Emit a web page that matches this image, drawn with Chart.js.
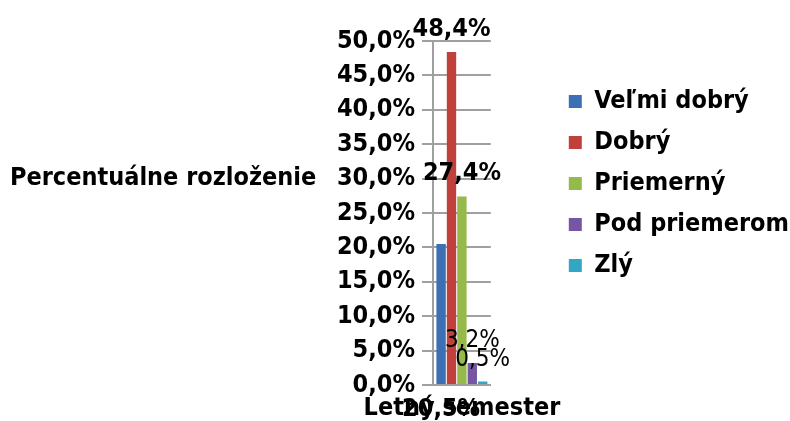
<!DOCTYPE html>
<html>
<head>
<meta charset="utf-8">
<script src="https://cdn.jsdelivr.net/npm/chart.js@4.4.1/dist/chart.umd.min.js"></script>
<style>
  html, body { margin: 0; padding: 0; background: #fff; }
</style>
</head>
<body>
<canvas id="myChart" width="790" height="421"></canvas>
<script>
const categories = ['Letný semester'];
const seriesNames = ['Veľmi dobrý', 'Dobrý', 'Priemerný', 'Pod priemerom', 'Zlý'];
const velmiDobry = [20.5];
const dobry = [48.4];
const priemerny = [27.4];
const podPriemerom = [3.2];
const zly = [0.5];
const yTickValues = [0, 5, 10, 15, 20, 25, 30, 35, 40, 45, 50];
const axisTitle = 'Percentuálne rozloženie';

const FONT = '"DejaVu Sans Condensed", "DejaVu Sans", sans-serif';
const palette = ['#3d6fb4', '#c0403c', '#95ba4a', '#7656a2', '#33a6c4'];
// how each value label was placed in the original
const labelLook = [
    { weight: 'bold', size: 25, place: 'base' },
    { weight: 'bold', size: 25, place: 'end' },
    { weight: 'bold', size: 25, place: 'end' },
    { weight: 'normal', size: 24, place: 'end' },
    { weight: 'normal', size: 24, place: 'end' },
];

const fmt = v => v.toFixed(1).replace('.', ',') + '%';

const sideTitle = {
    id: 'sideTitle',
    afterDraw(chart) {
        const ctx = chart.ctx;
        ctx.save();
        ctx.font = 'bold 25px ' + FONT;
        ctx.fillStyle = '#000';
        ctx.textAlign = 'left';
        ctx.textBaseline = 'middle';
        ctx.fillText(axisTitle, 10, 178);
        ctx.restore();
    },
};

const valueLabels = {
    id: 'valueLabels',
    afterDatasetsDraw(chart) {
        const ctx = chart.ctx;
        const base = chart.scales.y.getPixelForValue(0);
        ctx.save();
        ctx.fillStyle = '#000';
        ctx.textAlign = 'center';
        ctx.textBaseline = 'alphabetic';
        chart.data.datasets.forEach((ds, i) => {
            const bar = chart.getDatasetMeta(i).data[0];
            const look = labelLook[i];
            ctx.font = `${look.weight} ${look.size}px ${FONT}`;
            const y = look.place === 'end' ? bar.y - 16 : base + 31;
            ctx.fillText(fmt(ds.data[0]), bar.x, y);
        });
        ctx.restore();
    },
};

const seriesData = [velmiDobry, dobry, priemerny, podPriemerom, zly];
const datasets = seriesNames.map((name, i) => ({
    label: name,
    data: seriesData[i],
    backgroundColor: palette[i],
    borderWidth: 0,
    categoryPercentage: 0.9,
    barPercentage: 0.9,
}));

Chart.defaults.font.family = FONT;
Chart.defaults.color = '#000';

new Chart(document.getElementById('myChart').getContext('2d'), {
    type: 'bar',
    data: { labels: categories, datasets },
    plugins: [sideTitle, valueLabels],
    options: {
        responsive: false,
        animation: false,
        layout: {
            padding: { left: 330, right: -9, top: 41, bottom: -10 },
        },
        plugins: {
            tooltip: { enabled: false },
            legend: {
                position: 'right',
                align: 'start',
                maxWidth: 260,
                title: {
                    display: true,
                    text: '',
                    font: { size: 10, lineHeight: 1 },
                    padding: { top: 22, bottom: 0 },
                },
                labels: {
                    boxWidth: 13,
                    boxHeight: 13,
                    padding: 16,
                    color: '#000',
                    font: { size: 25, weight: 'bold' },
                },
            },
        },
        scales: {
            x: {
                grid: { display: false, drawTicks: false },
                border: { display: true, color: '#a0a0a0', width: 2 },
                ticks: {
                    padding: 8,
                    color: '#000',
                    font: { size: 25, weight: 'bold' },
                },
            },
            y: {
                min: 0,
                max: 50,
                afterBuildTicks: axis => {
                    axis.ticks = yTickValues.map(v => ({ value: v }));
                },
                afterFit: axis => {
                    axis.width = 103;
                },
                grid: {
                    color: '#a0a0a0',
                    lineWidth: 2,
                    tickLength: 11,
                },
                border: { color: '#a0a0a0', width: 2 },
                ticks: {
                    padding: 7,
                    color: '#000',
                    font: { size: 25, weight: 'bold' },
                    callback: v => fmt(v),
                },
            },
            // empty right-hand axis, only keeps the gap between plot and legend
            gap: {
                type: 'linear',
                position: 'right',
                grid: { display: false, drawTicks: false },
                border: { display: false },
                ticks: { display: false },
                afterFit: axis => {
                    axis.width = 62;
                },
            },
        },
    },
});
</script>
</body>
</html>
